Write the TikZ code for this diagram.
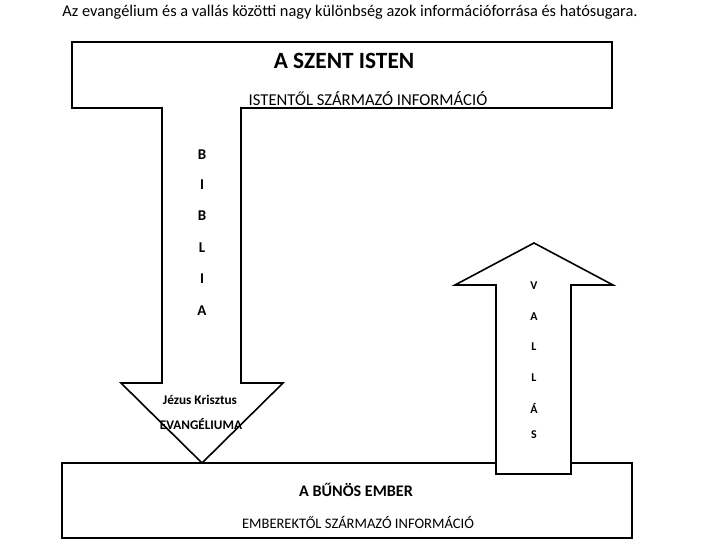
\documentclass[tikz,border=0pt]{standalone}
\usepackage{fontspec}
\setmainfont{Carlito}
\begin{document}
\begin{tikzpicture}[x=1bp,y=-1bp,
  box/.style={draw,line width=1.6bp,fill=white},
  arr/.style={draw,line width=1.6bp,fill=white,line join=miter},
  lbl/.style={inner sep=0pt,font=\fontsize{15}{17}\selectfont\bfseries},
  vlbl/.style={inner sep=0pt,font=\fontsize{12}{14}\selectfont\bfseries}]
\useasboundingbox (0,0) rectangle (720,540);
\node[inner sep=0pt,font=\fontsize{16.4}{19}\selectfont] (title) at (350,12) {Az evangélium és a vallás közötti nagy különbség azok információforrása és hatósugara.};
% top box
\draw[box] (72,42) rectangle (612,108);
\node[inner sep=0pt,font=\fontsize{23.4}{26}\selectfont\bfseries] (szent) at (344,61) {A SZENT ISTEN};
\node[inner sep=0pt,font=\fontsize{16.7}{19}\selectfont] (istinfo) at (368,99) {ISTENTŐL SZÁRMAZÓ INFORMÁCIÓ};
% bottom box
\draw[box] (62,463) rectangle (632,538);
\node[inner sep=0pt,font=\fontsize{16.2}{19}\selectfont\bfseries] (bunos) at (356,490) {A BŰNÖS EMBER};
\node[inner sep=0pt,font=\fontsize{14.6}{17}\selectfont] (embinfo) at (358,522) {EMBEREKTŐL SZÁRMAZÓ INFORMÁCIÓ};
% down arrow (Biblia)
\fill[white] (163,107) rectangle (240,110);
\draw[arr] (162,107) -- (162,383) -- (121,383) -- (202,463) -- (283,383) -- (241,383) -- (241,107);
\node[lbl] (b1) at (202,155) {B};
\node[lbl] (i1) at (202,185) {I};
\node[lbl] (b2) at (202,216) {B};
\node[lbl] (l1) at (202,248) {L};
\node[lbl] (i2) at (202,279) {I};
\node[lbl] (a1) at (202,311) {A};
\node[inner sep=0pt,font=\fontsize{13.3}{15}\selectfont\bfseries] (jezus) at (200,400) {Jézus Krisztus};
\node[inner sep=0pt,font=\fontsize{13.2}{15}\selectfont\bfseries] (evang) at (201,424) {EVANGÉLIUMA};
% up arrow (Vallás)
\draw[arr] (496,474) -- (496,285) -- (455,285) -- (534,243) -- (613,285) -- (571,285) -- (571,474) -- cycle;
\node[vlbl] (v) at (534,286) {V};
\node[vlbl] (va) at (534,317) {A};
\node[vlbl] (vl1) at (534,347) {L};
\node[vlbl] (vl2) at (534,378) {L};
\node[vlbl] (vaa) at (534,408) {Á};
\node[vlbl] (vs) at (534,435) {S};
\end{tikzpicture}
\end{document}
